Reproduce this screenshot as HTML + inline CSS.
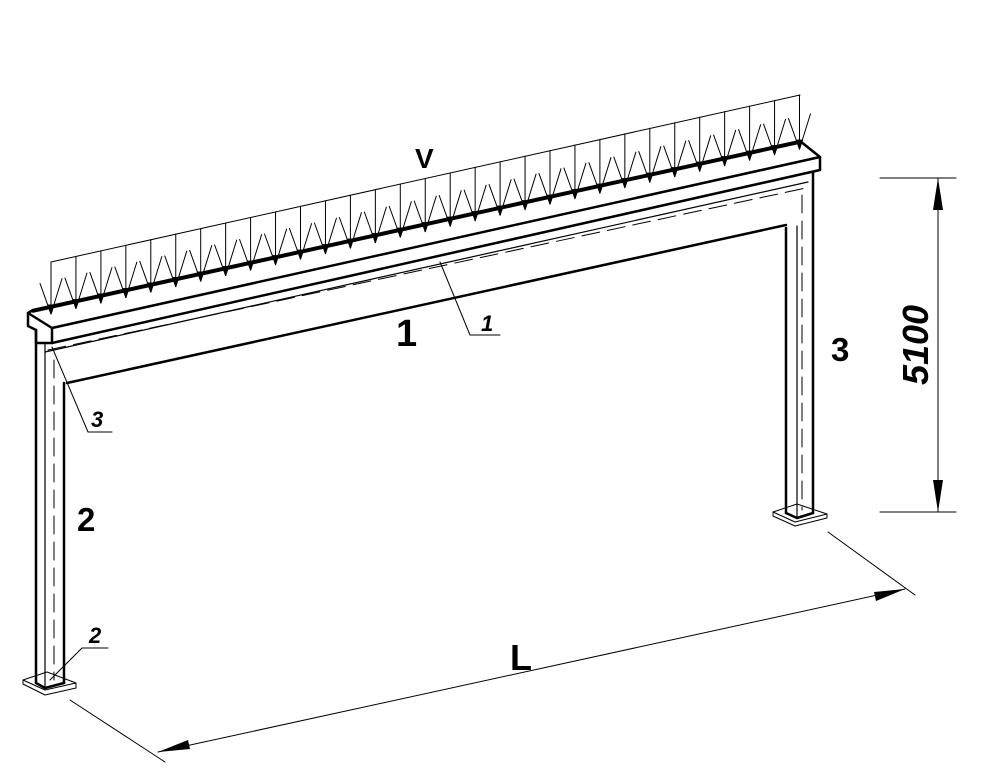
<!DOCTYPE html>
<html><head><meta charset="utf-8"><style>
html,body{margin:0;padding:0;background:#fff;}
svg{display:block;}
text{font-family:"Liberation Sans",sans-serif;font-weight:bold;fill:#000;}
</style></head><body>
<svg id="s" width="983" height="776" viewBox="0 0 983 776" xmlns="http://www.w3.org/2000/svg">
<g fill="none" stroke="#000" stroke-linecap="round" stroke-linejoin="round">
<line x1="51" y1="262" x2="800" y2="95" stroke-width="1"/>
<g id="load" stroke-width="1"></g>
<polyline points="28,313 33,310 800,141 820,157 52,328 28,313 28,326 36,330 36,343 52,343 52,328" stroke-width="2.5"/>
<line x1="33" y1="311" x2="800" y2="142" stroke-width="3.5"/>
<polyline points="820,157 820,170 52,343" stroke-width="2.5"/>
<line x1="45" y1="352" x2="808" y2="182" stroke-width="1.2"/>
<line x1="67" y1="383" x2="786" y2="225" stroke-width="2.5"/>
<line x1="48" y1="350" x2="806" y2="188" stroke-width="1" stroke-dasharray="18,8"/>
<line x1="36" y1="330" x2="36" y2="683" stroke-width="2.5"/>
<line x1="45" y1="343" x2="45" y2="688" stroke-width="1.2"/>
<line x1="64" y1="383" x2="64" y2="683" stroke-width="2.5"/>
<line x1="54" y1="360" x2="54" y2="680" stroke-width="1" stroke-dasharray="18,8"/>
<polyline points="36,683 45,688 64,683" stroke-width="2.5"/>
<polygon points="23,680 47,672 76,683 45,690" stroke-width="1"/>
<polyline points="23,680 23,684 45,695 76,688 76,683" stroke-width="1"/>
<line x1="786" y1="228" x2="786" y2="513" stroke-width="2.5"/>
<line x1="797" y1="226" x2="797" y2="518" stroke-width="1.2"/>
<line x1="813" y1="172" x2="813" y2="513" stroke-width="2.5"/>
<line x1="802" y1="195" x2="802" y2="510" stroke-width="1" stroke-dasharray="18,8"/>
<polyline points="786,513 797,518 813,513" stroke-width="2.5"/>
<polygon points="773,512 797,504 827,514 795,522" stroke-width="1"/>
<polyline points="773,512 773,516 795,526 827,518 827,514" stroke-width="1"/>
<polyline points="440,262 470,335 500,335" stroke-width="1"/>
<polyline points="52,347 88,432 112,432" stroke-width="1"/>
<polyline points="50,680 82,648 108,648" stroke-width="1"/>
<line x1="880" y1="178" x2="956" y2="178" stroke-width="1"/>
<line x1="880" y1="512" x2="956" y2="512" stroke-width="1"/>
<line x1="938" y1="178" x2="938" y2="512" stroke-width="1"/>
<line x1="70" y1="700" x2="165" y2="762" stroke-width="1"/>
<line x1="828" y1="532" x2="915" y2="595" stroke-width="1"/>
<line x1="158" y1="752" x2="905" y2="589" stroke-width="1"/>
</g>
<g fill="#000">
<polygon points="938,178 933,210 943,210"/>
<polygon points="938,512 933,480 943,480"/>
<polygon points="158,752 188,740 190,749"/>
<polygon points="905,589 874,592 876,601"/>
</g>
<text x="415" y="168" font-size="28">V</text>
<text x="396" y="346" font-size="38">1</text>
<text x="831" y="361" font-size="33">3</text>
<text x="77" y="531" font-size="33">2</text>
<text x="510" y="670" font-size="36">L</text>
<text x="481" y="331" font-size="22" font-style="italic">1</text>
<text x="91" y="427" font-size="22" font-style="italic">3</text>
<text x="89" y="643" font-size="22" font-style="italic">2</text>
<text transform="translate(928,345) rotate(-90)" font-size="36" font-style="italic" text-anchor="middle">5100</text>
</svg>
<script>
(function(){
var g=document.getElementById('load'),h='';
function top(x){return 262-0.2233*(x-51);}
function edge(x){return 311-0.2203*(x-33);}
for(var i=0;i<31;i++){
 var x=51+i*24.95; if(x>800)x=800;
 var ty=edge(x)+7;
 h+='<line x1="'+x+'" y1="'+top(x)+'" x2="'+x+'" y2="'+ty+'"/>';
 h+='<line x1="'+(x-11)+'" y1="'+(edge(x-11)-26)+'" x2="'+x+'" y2="'+ty+'"/>';
 h+='<line x1="'+(x+11)+'" y1="'+(edge(x+11)-26)+'" x2="'+x+'" y2="'+ty+'"/>';
 h+='<polygon fill="#000" points="'+(x-3)+','+(ty-9)+' '+(x+3)+','+(ty-9)+' '+x+','+ty+'"/>';
}
g.innerHTML=h;
})();
</script>
</body></html>
